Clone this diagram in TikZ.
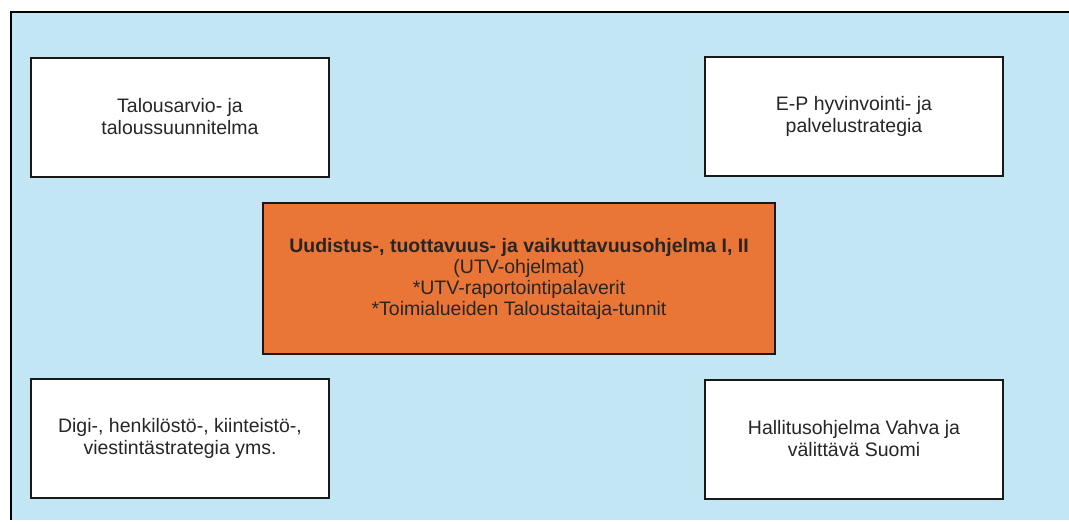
\documentclass[tikz,border=0pt]{standalone}
\usepackage{fontspec}
\setmainfont{Liberation Sans}
\definecolor{taustasin}{HTML}{C3E6F4}
\definecolor{oranssi}{HTML}{E97537}

\begin{document}
\begin{tikzpicture}[x=1pt,y=-1pt,
	laatikko/.style={draw=black!90,line width=2pt,fill=white,minimum width=298pt,minimum height=119pt,align=center,text=black!85,font=\fontsize{19.5}{22}\selectfont},
	keskus/.style={laatikko,fill=oranssi,minimum width=512pt,minimum height=151pt}]
			\useasboundingbox (0,0) rectangle (1069,523);
			\fill[taustasin] (11,12) rectangle (1069,520);
			\draw[line width=2pt] (11,520) -- (11,12) -- (1069,12);
			
			\node[laatikko] (talous) at (180,117) {Talousarvio- ja\\taloussuunnitelma};
			\node[laatikko] (hyvinvointi) at (854,116) {E-P hyvinvointi- ja\\palvelustrategia};
			\node[laatikko] (digi) at (180,438) {Digi-, henkilöstö-, kiinteistö-,\\viestintästrategia yms.};
			\node[laatikko] (hallitus) at (854,439) {Hallitusohjelma Vahva ja\\välittävä Suomi};
			
			\node[keskus,font=\fontsize{19.5}{21}\selectfont] (utv) at (519,278.5) {\textbf{Uudistus-, tuottavuus- ja vaikuttavuusohjelma I, II}\\(UTV-ohjelmat)\\*UTV-raportointipalaverit\\*Toimialueiden Taloustaitaja-tunnit};
\end{tikzpicture}
\end{document}
